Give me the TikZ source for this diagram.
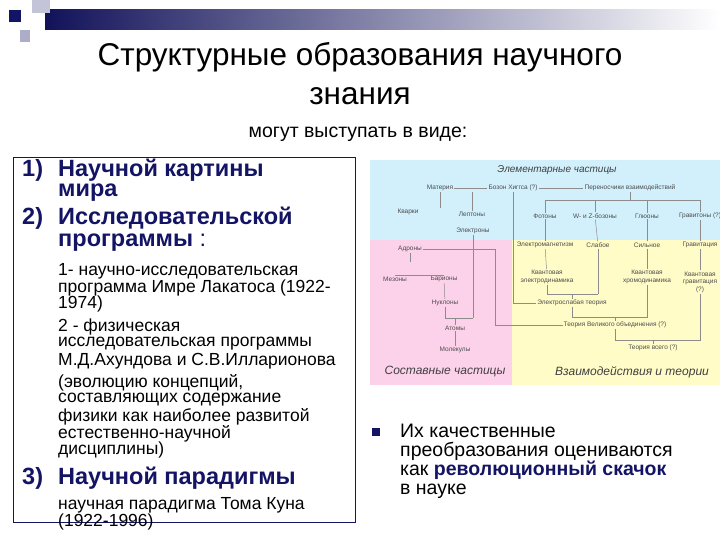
\documentclass[tikz,border=0pt]{standalone}
\usepackage{fontspec}
\setmainfont{Liberation Sans}
\begin{document}
\begin{tikzpicture}[x=1pt,y=-1pt,
  hd/.style={anchor=west,font=\fontsize{23.5}{25}\selectfont\bfseries,text=navy,inner sep=0},
  sb/.style={anchor=west,font=\fontsize{17.5}{16}\selectfont,inner sep=0},
  pt/.style={font=\fontsize{6.5}{7.5}\selectfont,text=black!70,inner sep=1pt,align=center},
  ln/.style={draw=black!45,line width=0.5pt}]
\definecolor{navy}{RGB}{20,20,100}
\useasboundingbox (0,0) rectangle (720,540);
\fill[white] (0,0) rectangle (720,540);
% decoration
\shade[left color=navy!90!black,right color=white] (45,10) rectangle (720,30);
\fill[navy!25] (32,0) rectangle (50,13);
\fill[navy!35] (20,30) rectangle (30,42);
\fill[navy] (9,10) rectangle (21,22);
% title
\node[font=\fontsize{31.5}{39}\selectfont,align=center] (title) at (360,74) {Структурные образования научного\\знания};
\node[font=\fontsize{19.5}{21}\selectfont] (sub) at (358,134) {могут выступать в виде:};
% left box
\draw[navy,line width=0.6pt] (13,157) rectangle (355,522);
\node[hd] (h1n) at (22,170) {1)}; \node[hd] (h1) at (58,170) {Научной картины};
\node[hd] (h1b) at (58,193) {мира};
\node[hd] (h2n) at (22,218) {2)}; \node[hd] (h2) at (58,218) {Исследовательской};
\node[hd] (h2b) at (58,243) {программы \mdseries:};
\node[sb] (s1) at (58,271) {1- научно-исследовательская};
\node[sb] (s2) at (58,288) {программа Имре Лакатоса (1922-};
\node[sb] (s3) at (58,304) {1974)};
\node[sb] (s4) at (58,327) {2 - физическая};
\node[sb] (s5) at (58,344) {исследовательская программы};
\node[sb] (s6) at (58,361) {М.Д.Ахундова и С.В.Илларионова};
\node[sb] (s7) at (58,383) {(эволюцию концепций,};
\node[sb] (s8) at (58,400) {составляющих содержание};
\node[sb] (s9) at (58,417) {физики как наиболее развитой};
\node[sb] (s10) at (58,434) {естественно-научной};
\node[sb] (s11) at (58,450) {дисциплины)};
\node[hd] (h3n) at (22,478) {3)}; \node[hd] (h3) at (58,478) {Научной парадигмы};
\node[sb] (s12) at (58,505) {научная парадигма Тома Куна};
\node[sb] (s13) at (58,522) {(1922-1996)};
% right picture
\begin{scope}
\clip (370,160) rectangle (720,385);
\fill[cyan!18] (370,160) rectangle (720,240);
\fill[magenta!18] (370,240) rectangle (512,385);
\fill[yellow!22] (512,240) rectangle (720,385);
\node[font=\fontsize{10}{12}\selectfont\itshape,text=black!75] (et) at (557,170) {Элементарные частицы};
\node[font=\fontsize{12}{14}\selectfont\itshape,text=black!75] (ct) at (445,372) {Составные частицы};
\node[font=\fontsize{12}{14}\selectfont\itshape,text=black!75] (vt) at (632,372) {Взаимодействия и теории};
\node[pt] (mat) at (440,188) {Материя};
\node[pt] (hig) at (513,188) {Бозон Хиггса (?)};
\node[pt] (per) at (630,188) {Переносчики взаимодействий};
\node[pt] (kv) at (408,212) {Кварки};
\node[pt] (lep) at (472,214) {Лептоны};
\node[pt] (ele) at (473,231) {Электроны};
\node[pt] (fot) at (545,216) {Фотоны};
\node[pt] (wz) at (595,216) {W- и Z-бозоны};
\node[pt] (glu) at (647,216) {Глюоны};
\node[pt] (gra) at (700,216) {Гравитоны (?)};
\node[pt] (adr) at (410,249) {Адроны};
\node[pt] (em) at (545,245) {Электромагнетизм};
\node[pt] (sl) at (598,245) {Слабое};
\node[pt] (si) at (647,245) {Сильное};
\node[pt] (gv) at (700,245) {Гравитация};
\node[pt] (mez) at (395,279) {Мезоны};
\node[pt] (bar) at (444,279) {Барионы};
\node[pt] (ked) at (547,277) {Квантовая\\электродинамика};
\node[pt] (kxd) at (647,277) {Квантовая\\хромодинамика};
\node[pt] (kg) at (700,282) {Квантовая\\гравитация\\(?)};
\node[pt] (nuk) at (445,303) {Нуклоны};
\node[pt] (ews) at (572,303) {Электрослабая теория};
\node[pt] (ato) at (455,328) {Атомы};
\node[pt] (tvo) at (615,325) {Теория Великого объединения (?)};
\node[pt] (mol) at (455,350) {Молекулы};
\node[pt] (tv) at (653,348) {Теория всего (?)};
\draw[ln] (mat) -- (hig); \draw[ln] (hig) -- (per);
\draw[ln] (mat) -- (kv.north -| mat) ;
\draw[ln] (lep.north) -- (lep.north |- mat.south);
\draw[ln] (per.south) -- (630,200);
\draw[ln] (fot.north) |- (700,200) -- (gra.north);
\draw[ln] (wz.north) -- (wz.north |- 630,200);
\draw[ln] (glu.north) -- (glu.north |- 630,200);
\draw[ln] (fot) -- (em); \draw[ln] (wz) -- (sl); \draw[ln] (glu) -- (si); \draw[ln] (gra) -- (gv);
\draw[ln] (em) -- (ked); \draw[ln] (si) -- (kxd); \draw[ln] (gv) -- (kg);
\draw[ln] (ked.south) |- (598,294); \draw[ln] (sl.south) -- (598,294);
\draw[ln] (572,294) -- (ews.north);
\draw[ln] (hig.south) |- (ews.west);
\draw[ln] (ews.south) |- (647,317) -- (kxd.south);
\draw[ln] (615,317) -- (tvo.north);
\draw[ln] (tvo.south) |- (700,340) -- (kg.south);
\draw[ln] (653,340) -- (tv.north);
\draw[ln] (adr.east) -- (495,249) |- (tvo.west);
\draw[ln] (adr.south) -- (410,262); \draw[ln] (mez.north) |- (bar.north);
\draw[ln] (bar) -- (nuk);
\draw[ln] (nuk.south) |- (ele.south |- 318,318); \draw[ln] (ele.south) -- (473,318);
\draw[ln] (455,318) -- (ato.north);
\draw[ln] (ato) -- (mol);
\end{scope}
% bullet text
\fill[navy] (372,428) rectangle (380,436);
\node[anchor=north west,font=\fontsize{19.5}{18.5}\selectfont,align=left,inner sep=0] (bt) at (400,424)
 {Их качественные\\преобразования оцениваются\\как \textcolor{navy}{\bfseries революционный скачок}\\в науке};
\end{tikzpicture}
\end{document}
